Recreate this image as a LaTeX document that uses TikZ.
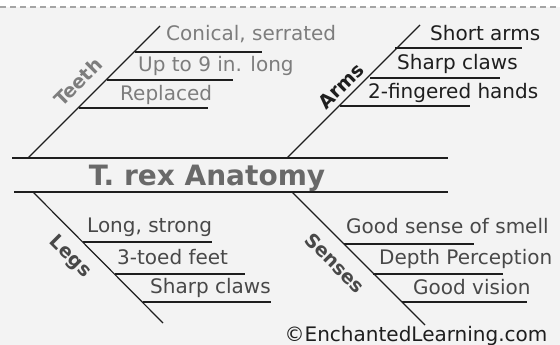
\documentclass[tikz,border=0pt]{standalone}
\usepackage{fontspec}
\setmainfont{DejaVu Sans}
\usetikzlibrary{calc}
\definecolor{bgpaper}{RGB}{243,243,243}
\definecolor{inkdark}{RGB}{30,30,30}
\definecolor{inkmid}{RGB}{72,72,72}
\definecolor{inklight}{RGB}{125,125,125}
\definecolor{titlegrey}{RGB}{105,105,105}
\definecolor{dashgrey}{RGB}{165,165,165}
\tikzset{
  spine/.style={line width=1.7pt, draw=inkdark},
  bone/.style={line width=1.2pt, draw=inkdark},
  rib/.style={line width=1.6pt, draw=inkdark},
  itemtext/.style={anchor=base west, inner sep=0pt, font=\fontsize{20}{20}\selectfont},
  causelabel/.style={inner sep=0pt, font=\fontsize{19}{19}\selectfont\bfseries},
  titletext/.style={anchor=base, inner sep=0pt, text=titlegrey,
    font=\fontsize{28}{28}\selectfont\bfseries}
}

\begin{document}
\begin{tikzpicture}[x=1pt,y=-1pt]
  \fill[white] (0,0) rectangle (560,345);
  \fill[bgpaper] (0,7) rectangle (560,345);
  \useasboundingbox (0,0) rectangle (560,345);
  \coordinate (dashL) at (0,7);
  \coordinate (dashR) at (560,7);
  \draw[dashgrey, line width=1.5pt, dash pattern=on 6pt off 4pt] (dashL) -- (dashR);

  % spine
  \coordinate (spineTL) at (12,158);
  \coordinate (spineTR) at (448,158);
  \coordinate (spineBL) at (14,192);
  \coordinate (spineBR) at (448,192);
  \draw[spine] (spineTL) -- (spineTR);
  \draw[spine] (spineBL) -- (spineBR);
  \node[titletext] (title) at (207,185) {T. rex Anatomy};

  % teeth
  \coordinate (teeth0) at (28,158);
  \coordinate (teeth1) at (160,26);
  \draw[bone] (teeth0) -- (teeth1);
  \node[causelabel, text=inklight, rotate=45] (teeth) at (78,82) {Teeth};
  \coordinate (teethA) at (135,52);
  \coordinate (teethB) at (107,80);
  \coordinate (teethC) at (79,108);
  \draw[rib] (teethA) -- ++(127,0);
  \draw[rib] (teethB) -- ++(126,0);
  \draw[rib] (teethC) -- ++(129,0);
  \node[itemtext, text=inklight] (conical) at (166,41) {Conical, serrated};
  \node[itemtext, text=inklight] (uptonine) at (138,72) {Up to 9 in. long};
  \node[itemtext, text=inklight] (replaced) at (120,100) {Replaced};

  % arms
  \coordinate (arms0) at (287,158);
  \coordinate (arms1) at (420,25);
  \draw[bone] (arms0) -- (arms1);
  \node[causelabel, text=inkdark, rotate=45] (arms) at (341,86) {Arms};
  \coordinate (armsA) at (395,48);
  \coordinate (armsB) at (370,78);
  \coordinate (armsC) at (340,106);
  \draw[rib] (armsA) -- ++(127,0);
  \draw[rib] (armsB) -- ++(130,0);
  \draw[rib] (armsC) -- ++(130,0);
  \node[itemtext, text=inkdark] (shortarms) at (430,41) {Short arms};
  \node[itemtext, text=inkdark] (armclaws) at (397,70) {Sharp claws};
  \node[itemtext, text=inkdark] (hands) at (368,99) {2-fingered hands};

  % legs
  \coordinate (legs0) at (33,192);
  \coordinate (legs1) at (163,323);
  \draw[bone] (legs0) -- (legs1);
  \node[causelabel, text=inkmid, rotate=-45] (legs) at (70,257) {Legs};
  \coordinate (legsA) at (83,242);
  \coordinate (legsB) at (115,274);
  \coordinate (legsC) at (143,302);
  \draw[rib] (legsA) -- ++(129,0);
  \draw[rib] (legsB) -- ++(130,0);
  \draw[rib] (legsC) -- ++(128,0);
  \node[itemtext, text=inkmid] (longstrong) at (87,232) {Long, strong};
  \node[itemtext, text=inkmid] (toedfeet) at (117,264) {3-toed feet};
  \node[itemtext, text=inkmid] (legclaws) at (150,293) {Sharp claws};

  % senses
  \coordinate (senses0) at (292,192);
  \coordinate (senses1) at (425,325);
  \draw[bone] (senses0) -- (senses1);
  \node[causelabel, text=inkmid, rotate=-45] (senses) at (335,263) {Senses};
  \coordinate (sensesA) at (344,244);
  \coordinate (sensesB) at (373,274);
  \coordinate (sensesC) at (402,302);
  \draw[rib] (sensesA) -- ++(130,0);
  \draw[rib] (sensesB) -- ++(130,0);
  \draw[rib] (sensesC) -- ++(125,0);
  \node[itemtext, text=inkmid] (smell) at (346,233) {Good sense of smell};
  \node[itemtext, text=inkmid] (depth) at (379,264) {Depth Perception};
  \node[itemtext, text=inkmid] (vision) at (413,294) {Good vision};

  \node[itemtext, anchor=base, text=inkdark] (credit) at (416,341) {©EnchantedLearning.com};
\end{tikzpicture}
\end{document}
